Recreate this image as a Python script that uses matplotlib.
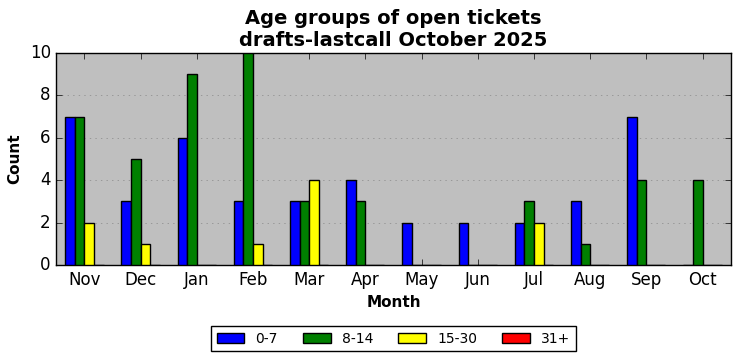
import numpy as np
import matplotlib
matplotlib.use('Agg')
import matplotlib.pyplot as plt

plt.style.use('classic')

# Data
months = ['Nov', 'Dec', 'Jan', 'Feb', 'Mar', 'Apr', 'May', 'Jun', 'Jul', 'Aug', 'Sep', 'Oct']
age_0_7 = [7, 3, 6, 3, 3, 4, 2, 2, 2, 3, 7, 0]
age_8_14 = [7, 5, 9, 10, 3, 3, 0, 0, 3, 1, 4, 4]
age_15_30 = [2, 1, 0, 1, 4, 0, 0, 0, 2, 0, 0, 0]
age_31_plus = [0, 0, 0, 0, 0, 0, 0, 0, 0, 0, 0, 0]

series = [('0-7', age_0_7, 'blue'),
          ('8-14', age_8_14, 'green'),
          ('15-30', age_15_30, 'yellow'),
          ('31+', age_31_plus, 'red')]

fig, ax = plt.subplots(figsize=(7.41, 3.61), dpi=100)
fig.patch.set_facecolor('white')
ax.set_facecolor('#bfbfbf')

x = np.arange(len(months))
total_width = 0.68
w = total_width / len(series)
for i, (label, vals, color) in enumerate(series):
    pos = x - total_width / 2 + w / 2 + i * w
    ax.bar(pos, vals, width=w, color=color, edgecolor='black', linewidth=1,
           label=label, align='center', zorder=3)

ax.set_xlim(-0.5, len(months) - 0.5)
ax.set_ylim(0, 10)
ax.set_xticks(x)
ax.set_xticklabels(months)
ax.yaxis.grid(True, linestyle=':', color='#888888', zorder=0)
ax.set_axisbelow(True)

ax.set_title('Age groups of open tickets\ndrafts-lastcall October 2025',
             fontsize=14, fontweight='bold')
ax.set_xlabel('Month', fontsize=11, fontweight='bold')
ax.set_ylabel('Count', fontsize=11, fontweight='bold')

ax.legend(loc='upper center', bbox_to_anchor=(0.5, -0.255), ncol=4,
          fontsize=10, frameon=True, columnspacing=1.8)

plt.subplots_adjust(left=0.076, right=0.986, top=0.853, bottom=0.266)
plt.savefig('out.png', dpi=100, facecolor='white')
plt.close()
